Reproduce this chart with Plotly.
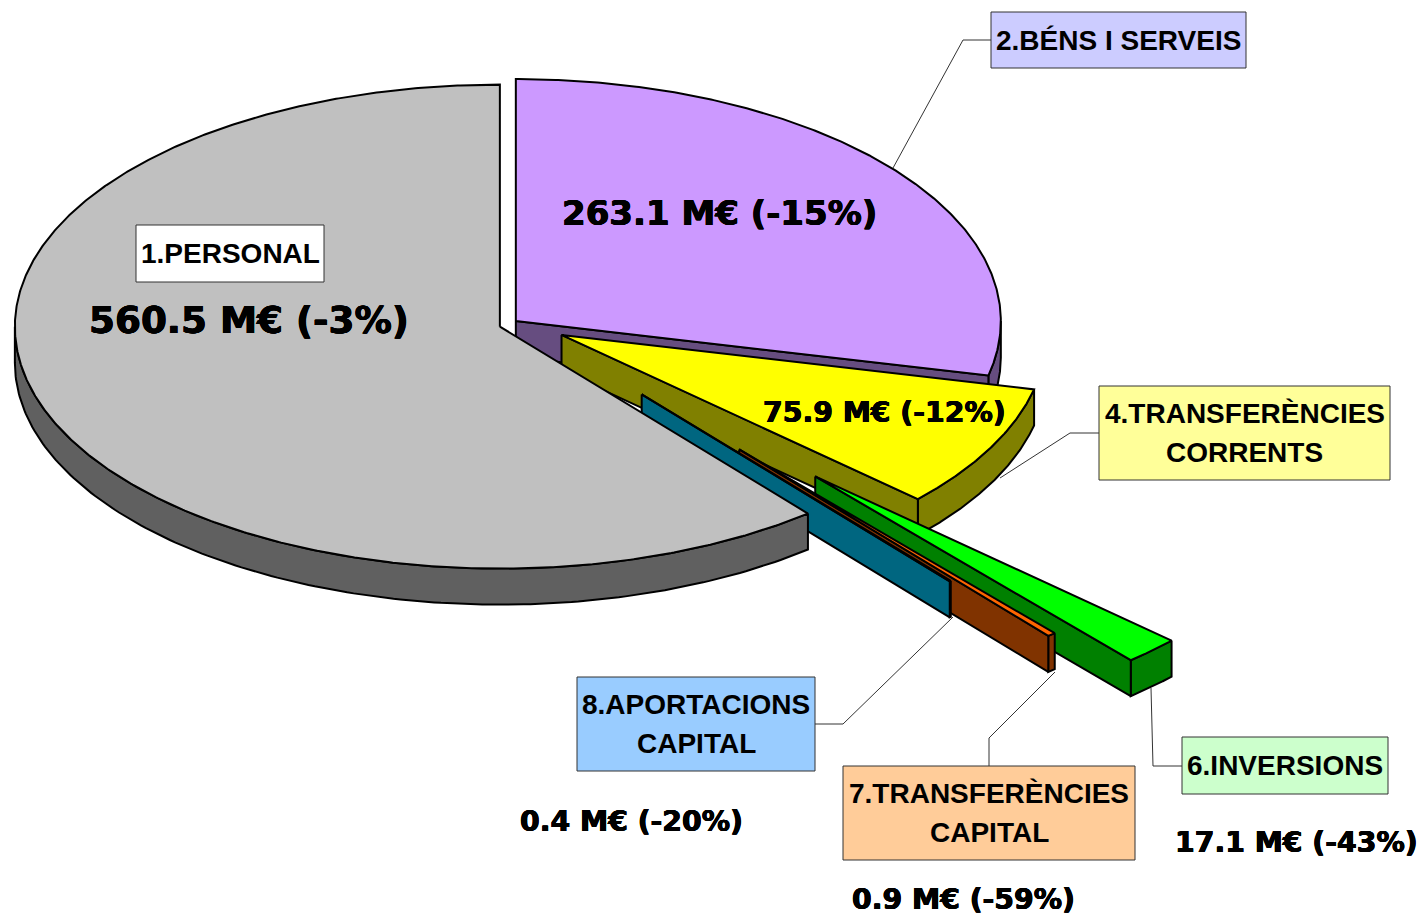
import numpy as np
import plotly.graph_objects as go

# ---- data (clockwise from 12 o'clock, as the pie is drawn) ----
CATEGORIES = ["2.BÉNS I SERVEIS", "4.TRANSFERÈNCIES\nCORRENTS", "6.INVERSIONS",
              "7.TRANSFERÈNCIES\nCAPITAL", "8.APORTACIONS\nCAPITAL", "1.PERSONAL"]
VALUES = [263.1, 75.9, 17.1, 0.9, 0.4, 560.5]
CHANGES = [-15, -12, -43, -59, -20, -3]

# ---- styles / layout ----
W, H = 1423, 915
CX, CY, RX, RY, DEPTH = 509, 325, 485, 242, 36
EXPLODE_X = [0.018, 0.1225, 0.91, 0.737, 0.43, 0.02]
EXPLODE_Y = [0.026, 0.088, 0.869, 0.672, 0.372, 0.02]
MIN_SWEEP = [0, 0, 0, 1.0, 0, 0]
TOP = ["#CC99FF", "#FFFF00", "#00FF00", "#FF6600", "#00CCFF", "#C0C0C0"]
SIDE = ["#664D80", "#808000", "#008000", "#803300", "#006680", "#606060"]
BOX_FILL = ["#CCCCFF", "#FFFF99", "#CCFFCC", "#FFCC99", "#99CCFF", "#FFFFFF"]
BOX = [(991, 12, 1246, 68), (1099, 386, 1390, 480), (1182, 737, 1388, 794),
       (843, 766, 1135, 860), (577, 677, 815, 771), (136, 225, 324, 282)]
VAL_POS = [(719, 213, 34), (884, 412, 28.3), (1296, 842, 28.3),
           (963, 899, 28.3), (631.5, 821, 28.3), (249, 320, 37.3)]
LEADERS = [[(893, 168), (963, 40), (991, 40)],
           [(1000, 478), (1070, 433), (1099, 433)],
           [(1151, 688), (1153, 766), (1182, 766)],
           [(1055, 672), (989, 738), (989, 766)],
           [(953, 617), (843, 724), (815, 724)]]
LABEL_FONT = "Liberation Sans"
VALUE_FONT = "DejaVu Sans"
HEAVY = "0.5px 0 0 black,-0.5px 0 0 black,0 0.4px 0 black,0 -0.4px 0 black"
LINE_STEP = 38.5

sweeps = np.maximum(np.array(VALUES) / sum(VALUES) * 360, MIN_SWEEP)
sweeps = sweeps * 360 / sweeps.sum()
ends = np.cumsum(sweeps)
starts = ends - sweeps

fig = go.Figure()


def poly(xs, ys, fill, lw=2):
    fig.add_trace(go.Scatter(x=xs, y=ys, mode="lines", fill="toself", fillcolor=fill,
                             line=dict(color="black", width=lw), hoverinfo="skip",
                             showlegend=False))


for pts in LEADERS:
    fig.add_trace(go.Scatter(x=[p[0] for p in pts], y=[p[1] for p in pts], mode="lines",
                             line=dict(color="#333333", width=1), hoverinfo="skip",
                             showlegend=False))

for i in range(len(VALUES)):
    a, b = starts[i], ends[i]
    m = np.radians((a + b) / 2)
    ax = CX + EXPLODE_X[i] * RX * np.sin(m)
    ay = CY - EXPLODE_Y[i] * RY * np.cos(m)
    px = lambda t: ax + RX * np.sin(np.radians(t))
    py = lambda t: ay - RY * np.cos(np.radians(t))
    # outer rim (only where it faces the viewer)
    lo, hi = max(a, 90), min(b, 270)
    if hi > lo:
        t = np.linspace(lo, hi, 160)
        poly(np.r_[px(t), px(t[::-1]), px(t[0])],
             np.r_[py(t), py(t[::-1]) + DEPTH, py(t[0])], SIDE[i])
    # radial wall at the slice's clockwise end
    if b < 180:
        poly([ax, px(b), px(b), ax, ax], [ay, py(b), py(b) + DEPTH, ay + DEPTH, ay], SIDE[i])
    # top face
    t = np.linspace(a, b, max(int(b - a) * 3, 4))
    poly(np.r_[ax, px(t), ax], np.r_[ay, py(t), ay], TOP[i])

shapes = []
annotations = []
for i, cat in enumerate(CATEGORIES):
    x0, y0, x1, y1 = BOX[i]
    shapes.append(dict(type="rect", x0=x0, y0=y0, x1=x1, y1=y1, xref="x", yref="y",
                       fillcolor=BOX_FILL[i], line=dict(color="#333333", width=1), layer="above"))
    lines = cat.split("\n")
    for j, txt in enumerate(lines):
        annotations.append(dict(x=(x0 + x1) / 2, y=(y0 + y1) / 2 + (j - (len(lines) - 1) / 2) * LINE_STEP,
                                text=txt, showarrow=False, xanchor="center", yanchor="middle",
                                font=dict(family=LABEL_FONT, size=28, color="black", weight="bold")))
    vx, vy, vs = VAL_POS[i]
    annotations.append(dict(x=vx, y=vy, text=f"{VALUES[i]} M€ ({CHANGES[i]}%)", showarrow=False,
                            xanchor="center", yanchor="middle",
                            font=dict(family=VALUE_FONT, size=vs, color="black", weight="bold",
                                      shadow=HEAVY)))

fig.update_layout(width=W, height=H, margin=dict(l=0, r=0, t=0, b=0),
                  paper_bgcolor="white", plot_bgcolor="white", showlegend=False,
                  xaxis=dict(range=[0, W], visible=False, fixedrange=True),
                  yaxis=dict(range=[H, 0], visible=False, fixedrange=True),
                  shapes=shapes, annotations=annotations)
fig.write_html("out.html", config={"displayModeBar": False},
               post_script="document.body.style.margin='0';document.body.style.overflow='hidden';")
